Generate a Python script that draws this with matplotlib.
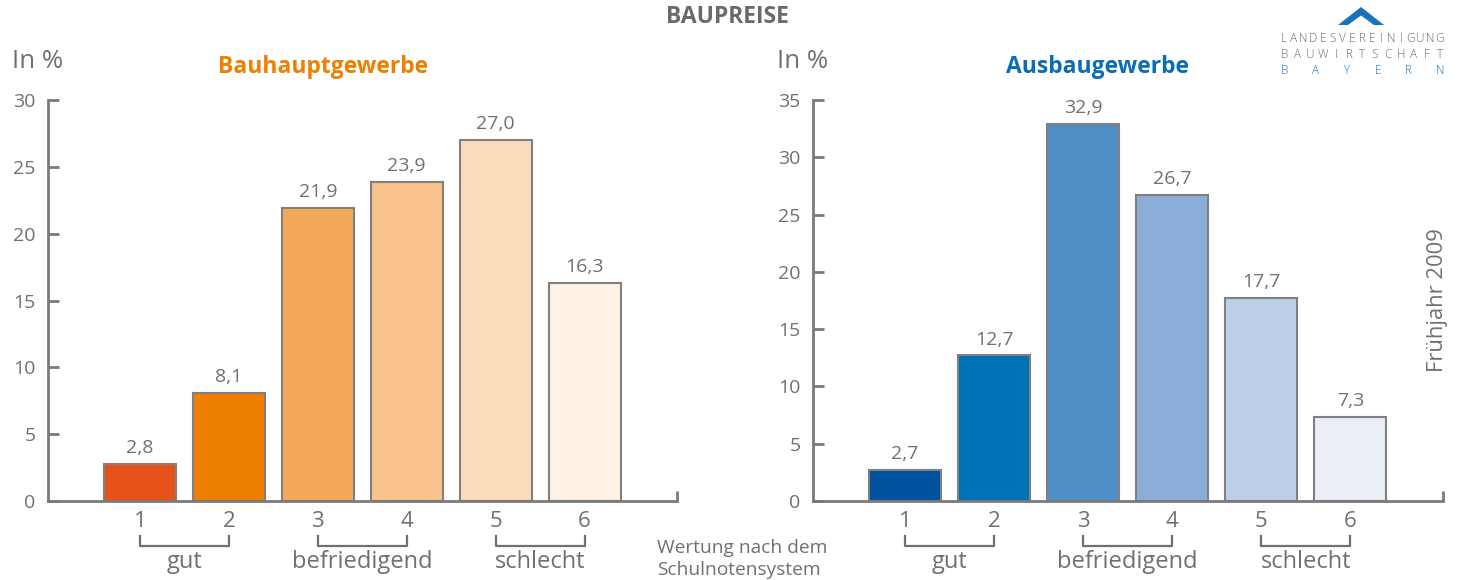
import matplotlib
matplotlib.use("Agg")
import matplotlib.pyplot as plt
from matplotlib.patches import Polygon
from matplotlib.transforms import blended_transform_factory

# --- data -------------------------------------------------------------
grades = ["1", "2", "3", "4", "5", "6"]
groups = ["gut", "befriedigend", "schlecht"]
bau_values = [2.8, 8.1, 21.9, 23.9, 27.0, 16.3]
ausbau_values = [2.7, 12.7, 32.9, 26.7, 17.7, 7.3]
bau_colors = ["#E65217", "#EE7F00", "#F4A95A", "#F8C38C", "#FBDBB9", "#FEF1E5"]
ausbau_colors = ["#00519E", "#0073B7", "#4E8FC8", "#8BADD7", "#BDCFE8", "#E9EEF7"]
bau_ticks = [0, 5, 10, 15, 20, 25, 30]
ausbau_ticks = [0, 5, 10, 15, 20, 25, 30, 35]

W, H = 1461, 580
GRAY = "#707070"
AXGRAY = "#7a7a7a"
ORANGE = "#EE7F00"
BLUE = "#0A6DB5"
FONT = ["Open Sans", "DejaVu Sans"]
WEIGHT = "normal"

plt.rcParams["font.family"] = FONT

fig = plt.figure(figsize=(W / 100, H / 100), dpi=100)


def fx(px):
    return px / W


def fy(py):
    return 1 - py / H


def panel(left_px, right_px, values, colors, ticks, title, title_color, title_x):
    ax = fig.add_axes([fx(left_px), fy(501), fx(right_px - left_px), (501 - 100) / H])
    x = list(range(len(values)))
    ax.bar(x, values, width=0.81, color=colors, edgecolor="#808080",
           linewidth=1.5, zorder=2)
    for xi, v in zip(x, values):
        ax.annotate(f"{v:.1f}".replace(".", ","), (xi, v), xytext=(0, 5),
                    textcoords="offset points", ha="center", va="bottom",
                    fontsize=14, color=GRAY, fontweight=WEIGHT)
    ax.set_xlim(-1.034, 6.04)
    ax.set_ylim(0, ticks[-1])
    ax.set_yticks(ticks)
    ax.set_yticklabels([str(t) for t in ticks], fontweight=WEIGHT)
    ax.tick_params(axis="y", direction="in", length=8, width=2, color=AXGRAY,
                   labelsize=14, labelcolor=GRAY, pad=9)
    ax.set_xticks(x)
    ax.set_xticklabels(grades, fontweight=WEIGHT)
    ax.tick_params(axis="x", length=0, labelsize=16, labelcolor=GRAY, pad=7)
    for s in ("top", "right"):
        ax.spines[s].set_visible(False)
    for s in ("left", "bottom"):
        ax.spines[s].set_color(AXGRAY)
        ax.spines[s].set_linewidth(2)
    # closing tick at the right end of the baseline
    ax.plot([1, 1], [0, 0.025], transform=ax.transAxes, color=AXGRAY,
            linewidth=2, clip_on=False, solid_capstyle="butt")

    # brackets grouping the grades
    tr = blended_transform_factory(ax.transData, fig.transFigure)
    for gi, name in enumerate(groups):
        a, b = 2 * gi, 2 * gi + 1
        ax.plot([a, a, b, b], [fy(536), fy(546), fy(546), fy(536)], transform=tr,
                color=GRAY, linewidth=1.6, clip_on=False)
        ax.text((a + b) / 2, fy(562), name, transform=tr, ha="center", va="center",
                fontsize=17, color=GRAY, fontweight=WEIGHT)

    fig.text(fx(left_px - 36), fy(62), "In %", ha="left", va="center",
             fontsize=18.5, color=GRAY)
    fig.text(fx(title_x), fy(67), title, ha="center", va="center",
             fontsize=16.5, fontweight="bold", color=title_color)
    return ax


panel(48, 677, bau_values, bau_colors, bau_ticks, "Bauhauptgewerbe", ORANGE, 323)
panel(813, 1443, ausbau_values, ausbau_colors, ausbau_ticks, "Ausbaugewerbe", BLUE, 1097)

fig.text(fx(727), fy(17), "BAUPREISE", ha="center", va="center",
         fontsize=16.5, fontweight="bold", color="#6a6a6a")

fig.text(fx(657), fy(548), "Wertung nach dem", ha="left", va="center",
         fontsize=13.8, color=GRAY, fontweight=WEIGHT)
fig.text(fx(657), fy(570), "Schulnotensystem", ha="left", va="center",
         fontsize=13.8, color=GRAY, fontweight=WEIGHT)

fig.text(fx(1438), fy(300), "Frühjahr 2009", ha="center", va="center",
         rotation=90, fontsize=15.8, color=GRAY, fontweight=WEIGHT)

# association logo: roof mark and letter-spaced lettering
roof = [(1338, 25), (1361, 7), (1384, 25), (1374, 25), (1361, 15.5), (1348, 25)]
fig.patches.append(Polygon([(fx(px), fy(py)) for px, py in roof], closed=True,
                           transform=fig.transFigure, facecolor="#1A72BB",
                           edgecolor="none"))
logo_lines = [("LANDESVEREINIGUNG", 38, "#6a6a6a"),
              ("BAUWIRTSCHAFT", 54, "#6a6a6a"),
              ("BAYERN", 70, "#1A72BB")]
for word, ypx, col in logo_lines:
    n = len(word)
    step = (1440 - 1284) / (n - 1)
    for i, ch in enumerate(word):
        fig.text(fx(1284 + i * step), fy(ypx), ch, ha="center", va="center",
                 fontsize=8.5, color=col, fontweight="light")

fig.savefig("out.png", dpi=100)
